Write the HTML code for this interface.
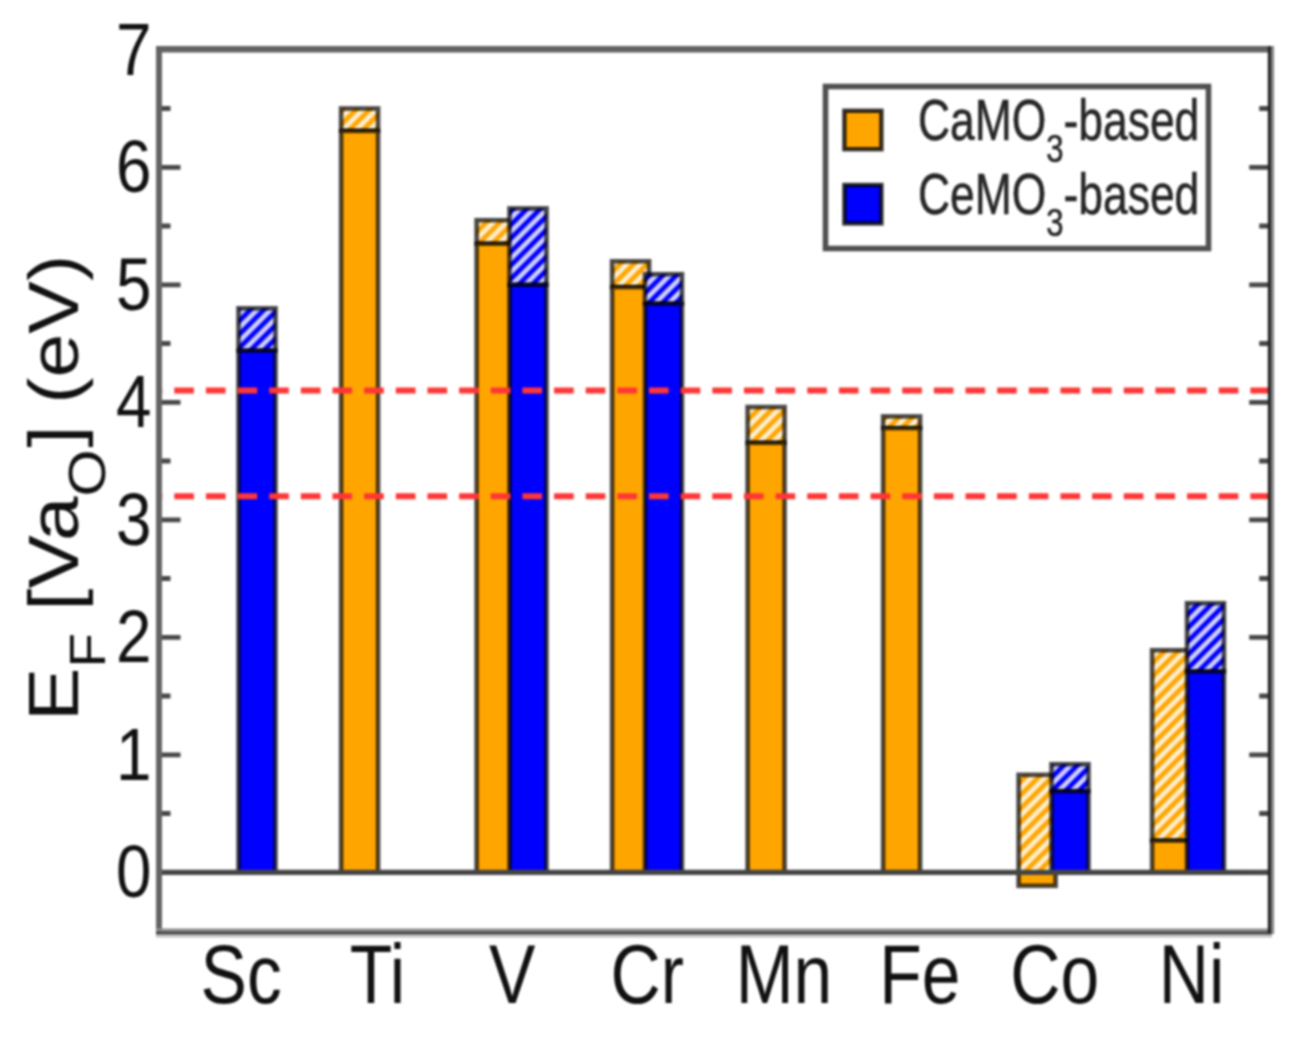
<!DOCTYPE html>
<html lang="en"><head><meta charset="utf-8"><title>Oxygen vacancy formation energy</title>
<style>html,body{margin:0;padding:0;background:#fff;}body{width:1302px;height:1040px;overflow:hidden;font-family:"Liberation Sans",sans-serif;}</style>
</head><body>
<svg width="1302" height="1040" viewBox="0 0 1302 1040" style="display:block">
<defs>
<pattern id="ho" patternUnits="userSpaceOnUse" width="13.5" height="13.5"><rect width="13.5" height="13.5" fill="#FFA500"/><path d="M-13.5 13.5 L13.5 -13.5 M0 13.5 L13.5 0 M0 27.0 L27.0 0" stroke="#fff" stroke-opacity="0.82" stroke-width="4.77" fill="none"/></pattern>
<pattern id="hb" patternUnits="userSpaceOnUse" width="13.5" height="13.5"><rect width="13.5" height="13.5" fill="#0000FF"/><path d="M-13.5 13.5 L13.5 -13.5 M0 13.5 L13.5 0 M0 27.0 L27.0 0" stroke="#fff" stroke-opacity="0.82" stroke-width="4.77" fill="none"/></pattern>
</defs>
<rect width="1302" height="1040" fill="#fff"/>
<g style="filter:blur(1.0px)">
<g id="bars">
<rect x="238.5" y="308.3" width="37.0" height="42.3" fill="url(#hb)" stroke="#000" stroke-opacity="0.7" stroke-width="4.6"/><rect x="238.5" y="350.6" width="37.0" height="521.7" fill="#0000FF" stroke="#000" stroke-opacity="0.7" stroke-width="4.6"/>
<rect x="341.1" y="108.5" width="37.0" height="22.3" fill="url(#ho)" stroke="#000" stroke-opacity="0.7" stroke-width="4.6"/><rect x="341.1" y="130.9" width="37.0" height="741.4" fill="#FFA500" stroke="#000" stroke-opacity="0.7" stroke-width="4.6"/>
<rect x="476.6" y="220.2" width="37.0" height="23.5" fill="url(#ho)" stroke="#000" stroke-opacity="0.7" stroke-width="4.6"/><rect x="476.6" y="243.7" width="37.0" height="628.6" fill="#FFA500" stroke="#000" stroke-opacity="0.7" stroke-width="4.6"/>
<rect x="509.5" y="208.4" width="37.0" height="76.4" fill="url(#hb)" stroke="#000" stroke-opacity="0.7" stroke-width="4.6"/><rect x="509.5" y="284.8" width="37.0" height="587.5" fill="#0000FF" stroke="#000" stroke-opacity="0.7" stroke-width="4.6"/>
<rect x="612.1" y="261.3" width="37.0" height="25.8" fill="url(#ho)" stroke="#000" stroke-opacity="0.7" stroke-width="4.6"/><rect x="612.1" y="287.1" width="37.0" height="585.2" fill="#FFA500" stroke="#000" stroke-opacity="0.7" stroke-width="4.6"/>
<rect x="645.0" y="274.2" width="37.0" height="29.4" fill="url(#hb)" stroke="#000" stroke-opacity="0.7" stroke-width="4.6"/><rect x="645.0" y="303.6" width="37.0" height="568.7" fill="#0000FF" stroke="#000" stroke-opacity="0.7" stroke-width="4.6"/>
<rect x="747.6" y="407.0" width="37.0" height="35.8" fill="url(#ho)" stroke="#000" stroke-opacity="0.7" stroke-width="4.6"/><rect x="747.6" y="442.8" width="37.0" height="429.5" fill="#FFA500" stroke="#000" stroke-opacity="0.7" stroke-width="4.6"/>
<rect x="883.1" y="416.4" width="37.0" height="11.8" fill="url(#ho)" stroke="#000" stroke-opacity="0.7" stroke-width="4.6"/><rect x="883.1" y="428.1" width="37.0" height="444.1" fill="#FFA500" stroke="#000" stroke-opacity="0.7" stroke-width="4.6"/>
<rect x="1018.6" y="774.8" width="37.0" height="97.5" fill="url(#ho)" stroke="#000" stroke-opacity="0.7" stroke-width="4.6"/><rect x="1018.6" y="872.3" width="37.0" height="13.5" fill="#FFA500" stroke="#000" stroke-opacity="0.7" stroke-width="4.6"/>
<rect x="1051.5" y="764.2" width="37.0" height="27.0" fill="url(#hb)" stroke="#000" stroke-opacity="0.7" stroke-width="4.6"/><rect x="1051.5" y="791.2" width="37.0" height="81.1" fill="#0000FF" stroke="#000" stroke-opacity="0.7" stroke-width="4.6"/>
<rect x="1152.1" y="650.2" width="37.0" height="190.4" fill="url(#ho)" stroke="#000" stroke-opacity="0.7" stroke-width="4.6"/><rect x="1152.1" y="840.6" width="37.0" height="31.7" fill="#FFA500" stroke="#000" stroke-opacity="0.7" stroke-width="4.6"/>
<rect x="1187.0" y="603.2" width="37.0" height="68.2" fill="url(#hb)" stroke="#000" stroke-opacity="0.7" stroke-width="4.6"/><rect x="1187.0" y="671.4" width="37.0" height="200.9" fill="#0000FF" stroke="#000" stroke-opacity="0.7" stroke-width="4.6"/>
</g>
<line x1="159.0" x2="1270.7" y1="872.3" y2="872.3" stroke="#454545" stroke-width="5.2"/>
<line x1="142.6" x2="1270.7" y1="390.6" y2="390.6" stroke="#ff3636" stroke-width="6" stroke-dasharray="19.65 12" />
<line x1="142.6" x2="1270.7" y1="496.3" y2="496.3" stroke="#ff3636" stroke-width="6" stroke-dasharray="19.65 12" />
<rect x="130" y="380" width="28.0" height="130" fill="#fff"/>
<path d="M1270.7 872.3h-21.5 M159.0 813.5h11.5 M1270.7 813.5h-11.5 M159.0 754.8h21.5 M1270.7 754.8h-21.5 M159.0 696.0h11.5 M1270.7 696.0h-11.5 M159.0 637.3h21.5 M1270.7 637.3h-21.5 M159.0 578.5h11.5 M1270.7 578.5h-11.5 M159.0 519.8h21.5 M1270.7 519.8h-21.5 M159.0 461.0h11.5 M1270.7 461.0h-11.5 M159.0 402.3h21.5 M1270.7 402.3h-21.5 M159.0 343.5h11.5 M1270.7 343.5h-11.5 M159.0 284.8h21.5 M1270.7 284.8h-21.5 M159.0 226.0h11.5 M1270.7 226.0h-11.5 M159.0 167.3h21.5 M1270.7 167.3h-21.5 M159.0 108.5h11.5 M1270.7 108.5h-11.5" stroke="#474747" stroke-width="4.8" fill="none"/>
<path d="M159.0 934V49.3" fill="none" stroke="#646464" stroke-width="6"/>
<path d="M156 49.3H1273" fill="none" stroke="#626262" stroke-width="6.4"/>
<path d="M156 930.1H1272" fill="none" stroke="#8e8e8e" stroke-width="3.2"/>
<path d="M156 933.1H1272" fill="none" stroke="#404040" stroke-width="3.2"/>
<path d="M156 936.1H1272" fill="none" stroke="#c2c2c2" stroke-width="3"/>
<path d="M1269.5 46V934" fill="none" stroke="#262626" stroke-width="3.4"/>
<path d="M1272.6 46V934" fill="none" stroke="#858585" stroke-width="3"/>
</g>
<g style="filter:blur(1.3px)">
<text transform="translate(241.2 1002.6) scale(0.8280 1)" font-size="84" text-anchor="middle" fill="#111" font-family="Liberation Sans, sans-serif" >Sc</text>
<text transform="translate(377.5 1002.6) scale(0.8280 1)" font-size="84" text-anchor="middle" fill="#111" font-family="Liberation Sans, sans-serif" >Ti</text>
<text transform="translate(512.2 1002.6) scale(0.8280 1)" font-size="84" text-anchor="middle" fill="#111" font-family="Liberation Sans, sans-serif" >V</text>
<text transform="translate(647.3 1002.6) scale(0.8280 1)" font-size="84" text-anchor="middle" fill="#111" font-family="Liberation Sans, sans-serif" >Cr</text>
<text transform="translate(784.0 1002.6) scale(0.8280 1)" font-size="84" text-anchor="middle" fill="#111" font-family="Liberation Sans, sans-serif" >Mn</text>
<text transform="translate(919.8 1002.6) scale(0.8280 1)" font-size="84" text-anchor="middle" fill="#111" font-family="Liberation Sans, sans-serif" >Fe</text>
<text transform="translate(1054.7 1002.6) scale(0.8280 1)" font-size="84" text-anchor="middle" fill="#111" font-family="Liberation Sans, sans-serif" >Co</text>
<text transform="translate(1191.6 1002.6) scale(0.8280 1)" font-size="84" text-anchor="middle" fill="#111" font-family="Liberation Sans, sans-serif" >Ni</text>
<text transform="translate(151.4 897.1) scale(0.8500 1)" font-size="75" text-anchor="end" fill="#111" font-family="Liberation Sans, sans-serif" >0</text>
<text transform="translate(151.4 779.6) scale(0.8500 1)" font-size="75" text-anchor="end" fill="#111" font-family="Liberation Sans, sans-serif" >1</text>
<text transform="translate(151.4 662.1) scale(0.8500 1)" font-size="75" text-anchor="end" fill="#111" font-family="Liberation Sans, sans-serif" >2</text>
<text transform="translate(151.4 544.6) scale(0.8500 1)" font-size="75" text-anchor="end" fill="#111" font-family="Liberation Sans, sans-serif" >3</text>
<text transform="translate(151.4 427.1) scale(0.8500 1)" font-size="75" text-anchor="end" fill="#111" font-family="Liberation Sans, sans-serif" >4</text>
<text transform="translate(151.4 309.6) scale(0.8500 1)" font-size="75" text-anchor="end" fill="#111" font-family="Liberation Sans, sans-serif" >5</text>
<text transform="translate(151.4 192.1) scale(0.8500 1)" font-size="75" text-anchor="end" fill="#111" font-family="Liberation Sans, sans-serif" >6</text>
<text transform="translate(151.4 74.6) scale(0.8500 1)" font-size="75" text-anchor="end" fill="#111" font-family="Liberation Sans, sans-serif" >7</text>
<text transform="translate(78.4 721.0) rotate(-90) scale(1 0.869)" font-size="80" fill="#111" font-family="Liberation Sans, sans-serif">E<tspan font-size="56.8" dy="31">F</tspan><tspan dy="-31"> [Va</tspan><tspan font-size="60.5" dy="31">O</tspan></text>
<text transform="translate(78.4 447.6) rotate(-90) scale(0.986 0.869)" font-size="80" fill="#111" font-family="Liberation Sans, sans-serif">] (eV)</text>
<rect x="825.5" y="86.5" width="383" height="162" fill="#fff" stroke="#505050" stroke-width="5.6"/>
<rect x="844.4" y="110.8" width="37" height="38.4" fill="#FFA500" stroke="#000" stroke-opacity="0.8" stroke-width="4.4"/>
<rect x="844.4" y="185" width="37" height="38.4" fill="#0000FF" stroke="#000" stroke-opacity="0.8" stroke-width="4.4"/>
<text transform="translate(918.0 140.0) scale(0.786 1)" font-size="56.5" fill="#262626" stroke="#262626" stroke-width="0.6" font-family="Liberation Sans, sans-serif">CaMO<tspan font-size="39.5" dy="21.5">3</tspan><tspan dy="-21.5">-based</tspan></text>
<text transform="translate(918.0 214.0) scale(0.786 1)" font-size="56.5" fill="#262626" stroke="#262626" stroke-width="0.6" font-family="Liberation Sans, sans-serif">CeMO<tspan font-size="39.5" dy="21.5">3</tspan><tspan dy="-21.5">-based</tspan></text>
</g>
</svg>
</body></html>
